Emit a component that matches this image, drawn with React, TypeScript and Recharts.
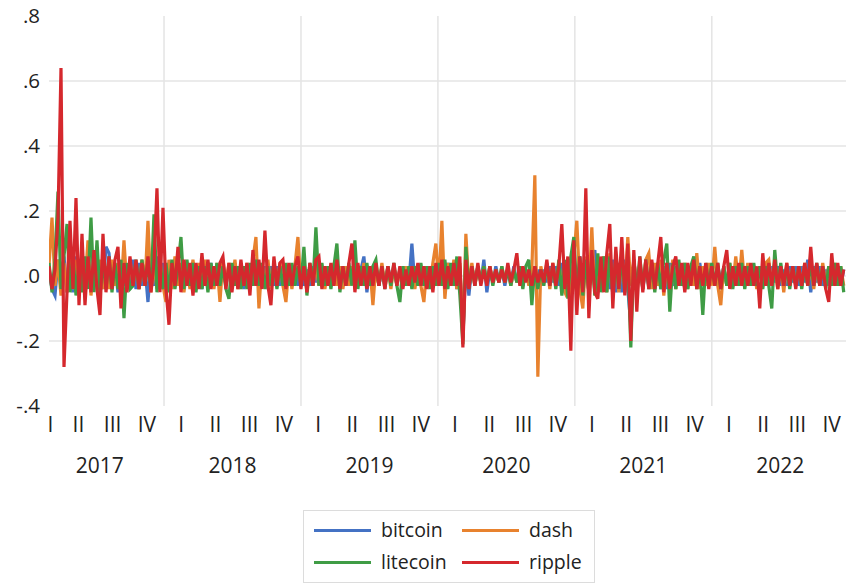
import React from 'react';
import { LineChart, Line, XAxis, YAxis, CartesianGrid } from 'recharts';

const FONT = '"Open Sans", "Noto Sans", sans-serif';

// time index: fractional years, one observation every STEP years
const T0 = 2017.16;
const T1 = 2022.98;
const STEP = 0.0219;

// returns in hundredths
const bitcoin = [
  2, -4, -6, 5, -4, 6, -5, 4, -5, 6,
  -3, 4, -5, 5, -4, 6, -3, 4, -4, 9,
  7, -4, 3, -5, 4, -3, 3, -4, 5, -4,
  4, -3, 3, -8, 4, -3, 6, -4, 4, -5,
  4, -3, 4, -3, 3, -4, 3, -3, 4, -3,
  3, -4, 3, -3, 4, -3, 3, -3, 4, -3,
  3, -3, 4, -3, 3, -4, 3, -3, 3, -3,
  3, -3, 3, -4, 3, -3, 3, -3, 3, -2,
  3, -3, 2, -3, 3, -3, 2, -3, 3, -2,
  3, -3, 2, -3, 3, -2, 3, -3, 2, -3,
  3, -2, 3, -3, 2, 6, -5, 3, -2, 3,
  -3, 2, -3, 3, -2, 3, -3, 2, -3, 3,
  -2, 10, -3, 2, -3, 3, -2, 3, -3, 3,
  -3, 3, -3, 4, -3, 3, -4, 3, -19, 4,
  -6, 3, -2, 3, -2, 5, -5, 2, -2, 3,
  -2, 2, -3, 2, -2, 3, -2, 2, -3, 2,
  -2, 3, -2, 2, -3, 2, -2, 3, -2, 3,
  -3, 4, -3, 4, -6, 5, -5, 6, -4, 5,
  -5, 4, 8, -5, 4, -4, 5, -4, 5, -5,
  4, -5, 5, -4, -15, 5, -4, 4, -4, 3,
  -3, 4, -3, 4, -4, 3, -4, 4, -3, 3,
  -3, 3, -4, 3, -3, 3, -3, 4, -3, 3,
  -3, 3, -3, 3, -2, 3, -3, 2, -3, 3,
  -3, 3, -2, 3, -3, 2, -3, 3, -2, 3,
  -3, 3, -2, 3, -3, 2, -3, 3, -2, 3,
  -3, 3, -2, 5, -5, 3, -2, 3, -3, 2,
  -3, 3, -2, 3, -3, 2,
];

const dash = [
  3, 18, -3, 5, -6, 4, -5, 6, -4, 5,
  -4, 5, -3, 11, -6, 4, -3, 5, -4, 3,
  -4, 5, -3, 4, -5, 11, -4, 5, -3, 4,
  -4, 5, -3, 17, -5, 4, -4, 5, -3, -8,
  5, -4, 6, -3, 4, -5, 3, -4, 5, -3,
  4, -3, 5, -4, 3, -4, 4, -8, 5, -3,
  4, -3, 5, -4, 3, -3, 4, -3, 5, 12,
  -10, 4, -3, 5, -4, 3, -3, 4, -3, -8,
  3, -4, 3, 12, -3, 5, -4, 3, -3, 4,
  -3, 3, -4, 3, -3, 4, -3, 3, -4, 3,
  -3, 3, -4, 3, -3, 4, -3, 3, -9, 3,
  -3, 4, -3, 3, -4, 3, -3, 2, -3, 3,
  -3, 3, -4, 3, -3, -8, 3, -3, 4, 10,
  -3, 17, -7, 4, -3, 5, -4, 4, -20, 13,
  -3, 4, -3, 3, -2, 3, -2, 3, -2, 2,
  -2, 3, -2, 2, -3, 2, -2, 3, -2, 2,
  -3, 2, 31, -31, 3, -2, 3, -4, 4, -3,
  4, -3, -5, 5, -6, 6, 17, -4, -10, 6,
  -5, 15, -6, 5, -4, 6, -5, 7, -4, 5,
  -5, 6, -4, 12, -3, 5, -4, 4, -4, 5,
  7, -4, 4, -3, 5, -6, 4, -3, 5, -4,
  3, -3, 4, -4, 3, -3, 7, -4, 3, -3,
  4, -3, 9, -3, -9, 3, -3, 4, -3, 6,
  -3, 8, -3, 4, -3, 3, -4, 3, -3, 4,
  5, -3, 3, -4, 3, -5, 4, -3, 3, -3,
  3, -3, 4, -3, 3, -4, 3, -3, 4, -3,
  3, -3, 4, -3, 3, -3,
];

const litecoin = [
  4, -5, 5, 26, -4, 6, 16, -5, 6, -6,
  4, -5, 6, -4, 18, -5, 11, -6, 5, -4,
  6, -5, 4, -4, 5, -13, 4, -4, -3, 5,
  -4, 5, -3, 4, -4, 19, -5, 5, -4, 4,
  -5, 5, -4, 3, 12, -4, 5, -3, 4, -5,
  3, -4, 3, -5, 4, -3, 4, -3, 3, -4,
  -7, 4, -3, 3, -4, 3, -4, 4, -3, 5,
  -3, 4, -4, 3, -3, 4, -4, 3, -3, 4,
  -3, 4, -3, 3, -3, 9, -6, 4, -3, 15,
  -3, 4, -3, 3, -4, 3, 10, -5, 3, -3,
  4, -3, 11, -4, 3, -3, 4, -3, 3, 5,
  -3, 3, -4, 3, -3, 4, -3, -8, 3, -3,
  3, -4, 3, -3, 4, -3, 3, -4, 3, -3,
  4, -3, 5, -4, 4, -3, 6, -6, -21, 9,
  -4, 3, -3, 3, -2, 3, -2, 3, -3, 2,
  -2, 3, -2, 2, -3, 2, -2, 3, -4, 3,
  5, -9, 3, -4, 2, -3, 4, -3, 3, -4,
  5, -6, 5, -7, 6, 12, -5, 6, -6, 5,
  -5, 6, -6, 7, -5, 6, -5, 6, -6, 5,
  -4, 6, -5, 6, -22, 5, -5, 6, -4, 5,
  -4, 4, -5, 4, -4, 5, 10, -11, 4, -4,
  5, -3, 4, -4, 3, 6, -4, 3, -12, 4,
  -3, 4, -3, 4, -4, 3, -3, 4, -4, 3,
  -3, 4, -4, 3, -3, 4, -3, 3, -4, 3,
  -3, -10, 8, -3, 4, -3, 3, -4, 3, -3,
  3, -4, 3, -3, 4, -3, 4, -3, 3, -4,
  3, -3, 4, -3, 3, -5,
];

const ripple = [
  3, -4, 2, 18, 64, -28, -5, 17, -4, 24,
  -9, 13, -9, 6, -5, 8, -4, -12, 13, -5,
  6, -4, 5, 9, -10, 4, -5, 6, -3, 5,
  -4, 4, -3, 6, -5, 4, 27, -5, 21, -4,
  -15, 4, -3, 9, -5, 5, -3, 4, -6, 4,
  -4, 7, -3, 5, -4, 3, -3, 4, 6, -4,
  4, -5, 3, -4, 5, -3, 4, -6, 8, -3,
  5, -4, 14, -3, -9, 6, -3, 4, 5, -4,
  4, -3, 3, 6, -4, 3, -5, 4, -3, 5,
  6, -4, 3, -3, 4, -3, 5, -4, 3, -3,
  4, 10, -5, 4, -3, 3, -4, 3, -3, 4,
  -3, 3, -4, 3, -2, 4, -3, 3, -4, 2,
  -3, 3, -2, 4, -3, 3, -4, 3, -5, 4,
  -3, 5, -4, 3, -3, 4, -3, 6, -22, 5,
  -4, 3, -3, 4, -3, 2, -3, 3, -2, 2,
  -2, 2, -2, 4, -2, 2, 7, -3, 3, -2,
  2, -3, 3, -2, 2, -2, 5, -3, 4, -3,
  3, 16, -4, 6, -23, 11, -12, 6, -5, 27,
  -13, 8, -5, -7, 6, -5, 7, 16, -10, 9,
  -4, 12, -6, 10, -20, 8, -11, 6, -5, 5,
  -4, 5, -4, 4, 12, -5, 4, -4, 3, 6,
  -3, 4, -5, 4, -3, 5, -4, 3, -3, 4,
  -4, 3, -3, 4, -4, 3, 8, -4, 3, -3,
  4, -3, 3, -3, 4, -3, 3, -10, 7, -3,
  4, -3, 5, -4, 3, -3, 4, -3, 3, -4,
  3, -3, 4, -3, 9, -3, 4, -3, 3, -4,
  -8, 7, -3, 4, -3, 2,
];

const quarterTicks = [
  2017.17, 2017.375, 2017.625, 2017.875,
  2018.125, 2018.375, 2018.625, 2018.875,
  2019.125, 2019.375, 2019.625, 2019.875,
  2020.125, 2020.375, 2020.625, 2020.875,
  2021.125, 2021.375, 2021.625, 2021.875,
  2022.125, 2022.375, 2022.625, 2022.875,
];
const quarterLabels = [
  'I', 'II', 'III', 'IV', 'I', 'II', 'III', 'IV', 'I', 'II', 'III', 'IV',
  'I', 'II', 'III', 'IV', 'I', 'II', 'III', 'IV', 'I', 'II', 'III', 'IV',
];
const yearTicks = [2017.53, 2018.5, 2019.5, 2020.5, 2021.5, 2022.5];
const yearLabels = ['2017', '2018', '2019', '2020', '2021', '2022'];
const yearBoundaries = [2018, 2019, 2020, 2021, 2022];
const yTicks = [-0.4, -0.2, 0, 0.2, 0.4, 0.6, 0.8];
const yGridTicks = [-0.2, 0, 0.2, 0.4, 0.6];

const seriesDefs = [
  { key: 'bitcoin', color: '#4472C4' },
  { key: 'dash', color: '#E8822E' },
  { key: 'litecoin', color: '#3F9C45' },
  { key: 'ripple', color: '#D5282D' },
];

const rows = ripple.map((_, i) => ({
  t: T0 + i * STEP,
  bitcoin: bitcoin[i] / 100,
  dash: dash[i] / 100,
  litecoin: litecoin[i] / 100,
  ripple: ripple[i] / 100,
}));

const findIdx = (arr: number[], v: number) => arr.findIndex((a) => Math.abs(a - v) < 1e-6);

const applyScale = (s: any, v: number) => {
  if (typeof s === 'function') return s(v);
  if (s && typeof s.map === 'function') return s.map(v);
  return NaN;
};

const XTick = (props: any) => {
  const { x, y, payload } = props;
  const v = payload.value;
  const qi = findIdx(quarterTicks, v);
  if (qi >= 0) {
    return (
      <text x={x} y={y + 26} textAnchor="middle" fontSize={21} fill="#222" fontFamily={FONT}>
        {quarterLabels[qi]}
      </text>
    );
  }
  const yi = findIdx(yearTicks, v);
  if (yi >= 0) {
    return (
      <text x={x} y={y + 67} textAnchor="middle" fontSize={21} fill="#222" fontFamily={FONT}>
        {yearLabels[yi]}
      </text>
    );
  }
  return null;
};

const fmtY = (v: number) => v.toFixed(1).replace('0.', '.');

const legendItems = [
  { key: 'bitcoin', color: '#4472C4', left: 10, top: 19 },
  { key: 'dash', color: '#E8822E', left: 158, top: 19 },
  { key: 'litecoin', color: '#3F9C45', left: 10, top: 51 },
  { key: 'ripple', color: '#D5282D', left: 158, top: 51 },
];

export default function App() {
  return (
    <div style={{ position: 'absolute', left: 0, top: 0, width: 846, height: 583, background: '#fff' }}>
      <LineChart width={846} height={583} data={rows} margin={{ top: 16, right: 0, bottom: 97, left: 0 }}>
        <CartesianGrid
          xAxisId="q"
          yAxisId="main"
          stroke="#e4e4e4"
          strokeWidth={1.5}
          horizontalCoordinatesGenerator={(p: any) => yGridTicks.map((v) => applyScale(p.yAxis.scale, v))}
          verticalCoordinatesGenerator={(p: any) => yearBoundaries.map((v) => applyScale(p.xAxis.scale, v))}
        />
        <XAxis
          xAxisId="q"
          type="number"
          dataKey="t"
          domain={[T0, T1]}
          ticks={[...quarterTicks, ...yearTicks]}
          interval={0}
          tick={<XTick />}
          axisLine={false}
          tickLine={false}
          tickSize={0}
          tickMargin={0}
          height={80}
          allowDataOverflow
        />
        <YAxis
          yAxisId="main"
          type="number"
          domain={[-0.4, 0.8]}
          ticks={yTicks}
          tickFormatter={fmtY}
          interval={0}
          axisLine={false}
          tickLine={false}
          tickSize={0}
          tickMargin={9}
          width={49}
          tick={{ fontSize: 20.5, fill: '#222', fontFamily: FONT }}
          allowDataOverflow
        />
        {seriesDefs.map((s) => (
          <Line
            key={s.key}
            xAxisId="q"
            yAxisId="main"
            type="linear"
            dataKey={s.key}
            stroke={s.color}
            strokeWidth={3.2}
            dot={false}
            isAnimationActive={false}
          />
        ))}
      </LineChart>
      <div
        style={{
          position: 'absolute',
          left: 303,
          top: 510,
          width: 290,
          height: 71,
          border: '1px solid #dcdcdc',
          fontFamily: FONT,
          fontSize: 19.5,
          color: '#222',
        }}
      >
        {legendItems.map((it) => (
          <React.Fragment key={it.key}>
            <div
              style={{
                position: 'absolute',
                left: it.left,
                top: it.top - 1.5,
                width: 57,
                height: 3,
                background: it.color,
              }}
            />
            <div
              style={{
                position: 'absolute',
                left: it.left + 67,
                top: it.top - 14,
                height: 28,
                lineHeight: '28px',
                whiteSpace: 'nowrap',
              }}
            >
              {it.key}
            </div>
          </React.Fragment>
        ))}
      </div>
    </div>
  );
}
